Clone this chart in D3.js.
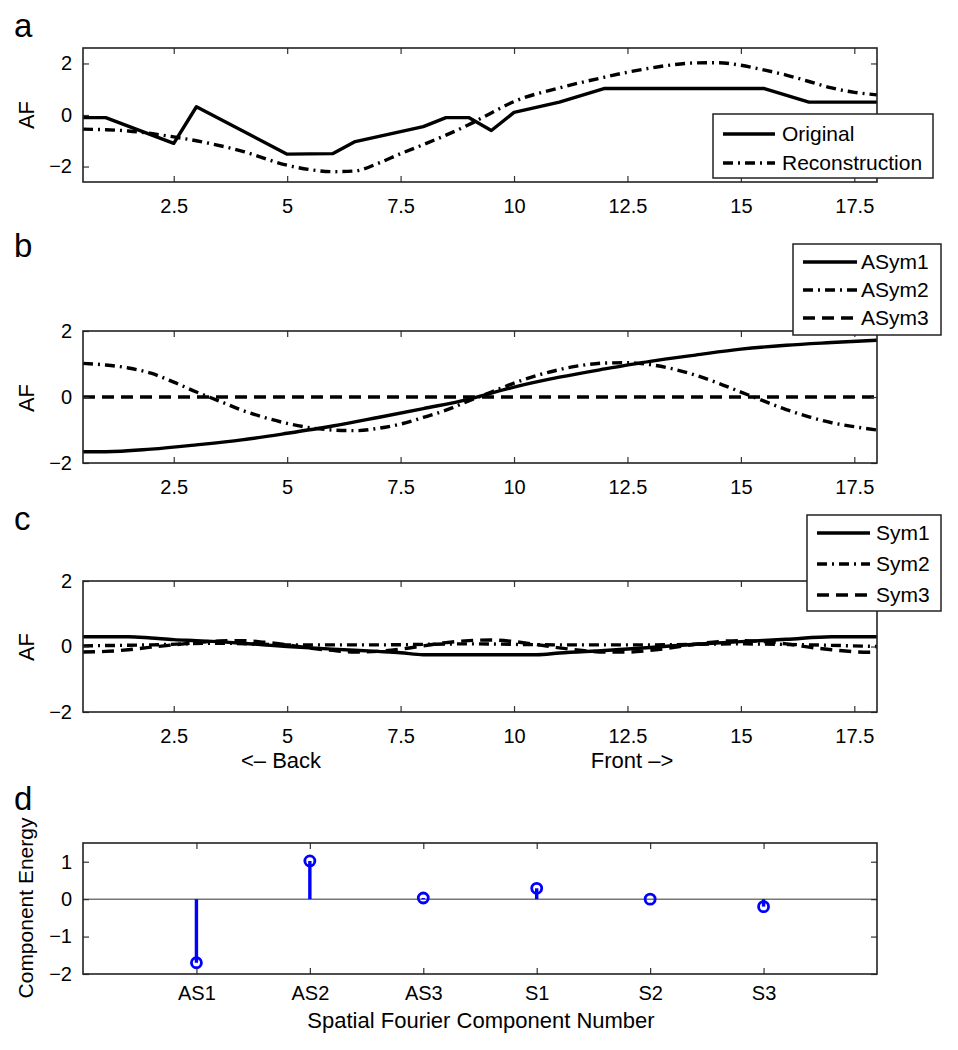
<!DOCTYPE html>
<html>
<head>
<meta charset="utf-8">
<script src="https://cdn.jsdelivr.net/npm/d3@7"></script>
<style>
  html, body { margin: 0; padding: 0; background: #fff; }
  svg { display: block; font-family: "Liberation Sans", Arial, Helvetica, sans-serif; }
</style>
</head>
<body>
<svg id="chart" width="958" height="1050"></svg>
<script>
// ---------- DATA ----------
const xTickValues = [2.5, 5, 7.5, 10, 12.5, 15, 17.5];
const xTickLabels = ["2.5", "5", "7.5", "10", "12.5", "15", "17.5"];
const afTickValues = [-2, 0, 2];
const afTickLabels = ["\u22122", "0", "2"];

// Panel a
const originalX = [0.5, 1, 2.5, 3, 5, 6, 6.5, 8, 8.5, 9, 9.5, 10, 11, 12, 15.5, 16.5, 18];
const originalY = [-0.1, -0.1, -1.1, 0.32, -1.52, -1.5, -1.03, -0.45, -0.1, -0.1, -0.6, 0.1, 0.5, 1.03, 1.03, 0.5, 0.5];
const reconX = [0.5, 1, 1.5, 2, 2.5, 3, 4, 5, 5.5, 6, 6.5, 7, 7.5, 8, 8.5, 9, 9.5, 10, 11, 12, 12.5, 13, 13.5, 14, 14.5, 15, 15.5, 16, 16.5, 17, 17.5, 18];
const reconY = [-0.55, -0.57, -0.62, -0.72, -0.85, -1.0, -1.4, -1.95, -2.12, -2.2, -2.17, -1.88, -1.5, -1.15, -0.78, -0.38, 0.08, 0.52, 1.05, 1.47, 1.66, 1.82, 1.95, 2.02, 2.03, 1.93, 1.75, 1.55, 1.3, 1.05, 0.88, 0.78];

// Panel b
const asym1X = [0.5, 1, 2, 3, 4, 5, 6, 7, 8, 9, 10, 11, 12, 13, 14, 15, 16, 17, 18];
const asym1Y = [-1.66, -1.66, -1.58, -1.45, -1.3, -1.1, -0.88, -0.62, -0.35, -0.07, 0.3, 0.6, 0.85, 1.08, 1.27, 1.45, 1.57, 1.65, 1.72];
const asym2X = [0.5, 1, 1.5, 2, 2.5, 3, 3.5, 4, 4.5, 5, 5.5, 6, 6.5, 7, 7.5, 8, 8.5, 9, 9.5, 10, 10.5, 11, 11.5, 12, 12.5, 13, 13.5, 14, 14.5, 15, 15.5, 16, 16.5, 17, 17.5, 18];
const asym2Y = [1.02, 0.97, 0.88, 0.72, 0.45, 0.15, -0.12, -0.4, -0.62, -0.8, -0.93, -1.0, -1.02, -0.95, -0.82, -0.62, -0.4, -0.12, 0.15, 0.42, 0.65, 0.83, 0.96, 1.03, 1.04, 0.98, 0.85, 0.66, 0.42, 0.15, -0.12, -0.38, -0.6, -0.78, -0.9, -1.0];
const asym3X = [0.5, 18];
const asym3Y = [0, 0];

// Panel c
const sym1X = [0.5, 1, 1.5, 2, 2.5, 3, 4, 5, 6, 7, 7.5, 8, 9, 10, 10.5, 11, 12, 13, 14, 15, 16, 17, 18];
const sym1Y = [0.3, 0.3, 0.3, 0.26, 0.21, 0.18, 0.1, 0.0, -0.08, -0.15, -0.19, -0.25, -0.25, -0.25, -0.25, -0.2, -0.12, -0.03, 0.07, 0.15, 0.22, 0.3, 0.3];
const sym2X = [0.5, 2, 3.5, 5, 7, 9, 11, 13, 15, 16.5, 18];
const sym2Y = [0.02, 0.05, 0.1, 0.05, 0.05, 0.08, 0.05, 0.05, 0.08, 0.05, 0.0];
const sym3X = [0.5, 1, 1.5, 2, 2.5, 3, 3.5, 4, 4.5, 5, 5.5, 6, 6.5, 7, 7.5, 8, 8.5, 9, 9.5, 10, 10.5, 11, 11.5, 12, 12.5, 13, 13.5, 14, 14.5, 15, 15.5, 16, 16.5, 17, 17.5, 18];
const sym3Y = [-0.17, -0.15, -0.1, -0.02, 0.05, 0.12, 0.17, 0.18, 0.13, 0.05, -0.05, -0.12, -0.17, -0.15, -0.08, 0.02, 0.12, 0.18, 0.2, 0.15, 0.06, -0.04, -0.12, -0.17, -0.17, -0.12, -0.03, 0.07, 0.15, 0.18, 0.15, 0.08, -0.02, -0.1, -0.16, -0.18];

// Panel d
const components = ["AS1", "AS2", "AS3", "S1", "S2", "S3"];
const componentEnergy = [-1.7, 1.02, 0.03, 0.29, 0.0, -0.2];
const energyTickValues = [-2, -1, 0, 1];
const energyTickLabels = ["\u22122", "\u22121", "0", "1"];

// ---------- LAYOUT ----------
const svg = d3.select("#chart");
const L = 83, R = 877;
const FONT = 20;
const DASHDOT = "10,5,2,5";
const DASHED = "12,7";
const LW = 3.4;

const xScale = d3.scaleLinear().domain([0.5, 18]).range([L, R]);

function styleAxis(s, withText) {
  s.select(".domain").remove();
  s.attr("font-family", null).attr("font-size", null);
  s.selectAll("line").attr("stroke", "#333").attr("stroke-width", 1.2);
  if (withText) s.selectAll("text").attr("font-size", FONT).attr("fill", "#000");
}

function drawFrame(g, x, y, opts) {
  const [x0, x1] = x.range();
  const [y0, y1] = y.range(); // y0 bottom, y1 top
  const bottom = d3.axisBottom(x).tickValues(opts.xVals).tickFormat((d, i) => opts.xLabels[i])
    .tickSize(-6).tickPadding(opts.xPad || 17);
  g.append("g").attr("transform", `translate(0,${y0})`).call(bottom).call(s => styleAxis(s, true));
  const top = d3.axisTop(x).tickValues(opts.xVals).tickFormat("").tickSize(-6);
  g.append("g").attr("transform", `translate(0,${y1})`).call(top).call(s => styleAxis(s, false));
  const left = d3.axisLeft(y).tickValues(opts.yVals).tickFormat((d, i) => opts.yLabels[i]).tickSize(-6).tickPadding(11);
  g.append("g").attr("transform", `translate(${x0},0)`).call(left).call(s => styleAxis(s, true));
  const right = d3.axisRight(y).tickValues(opts.yVals).tickFormat("").tickSize(-6);
  g.append("g").attr("transform", `translate(${x1},0)`).call(right).call(s => styleAxis(s, false));
  g.append("rect").attr("x", x0).attr("y", y1).attr("width", x1 - x0).attr("height", y0 - y1)
    .attr("fill", "none").attr("stroke", "#222").attr("stroke-width", 1.6);
}

function yLabel(text, x, y, size) {
  svg.append("text").attr("transform", `translate(${x},${y}) rotate(-90)`)
    .attr("text-anchor", "middle").attr("font-size", size || 22).attr("fill", "#000").text(text);
}
function panelLabel(text, x, y) {
  svg.append("text").attr("x", x).attr("y", y).attr("font-size", 33).attr("fill", "#000").text(text);
}
function seriesLine(g, xs, ys, x, y, dash, curve) {
  const pts = xs.map((v, i) => [v, ys[i]]);
  const line = d3.line().x(d => x(d[0])).y(d => y(d[1])).curve(curve || d3.curveLinear);
  g.append("path").datum(pts).attr("d", line).attr("fill", "none")
    .attr("stroke", "#000").attr("stroke-width", LW)
    .attr("stroke-dasharray", dash || null).attr("stroke-linejoin", "round");
}
function legend(box, rows) {
  svg.append("rect").attr("x", box.x).attr("y", box.y).attr("width", box.w).attr("height", box.h)
    .attr("fill", "#fff").attr("stroke", "#222").attr("stroke-width", 1.5);
  rows.forEach(r => {
    svg.append("line").attr("x1", box.lx0).attr("x2", box.lx1).attr("y1", r.y).attr("y2", r.y)
      .attr("stroke", "#000").attr("stroke-width", LW).attr("stroke-dasharray", r.dash || null);
    svg.append("text").attr("x", box.tx).attr("y", r.y).attr("dy", "0.35em")
      .attr("font-size", 21).attr("fill", "#000").text(r.label);
  });
}

// ---------- PANEL A ----------
{
  const y = d3.scaleLinear().domain([-2.6, 2.6]).range([182, 48]);
  const g = svg.append("g");
  seriesLine(g, reconX, reconY, xScale, y, DASHDOT, d3.curveMonotoneX);
  seriesLine(g, originalX, originalY, xScale, y, null);
  drawFrame(g, xScale, y, { xVals: xTickValues, xLabels: xTickLabels, yVals: afTickValues, yLabels: afTickLabels });
  yLabel("AF", 34, 115);
  panelLabel("a", 14, 37);
  legend({ x: 713, y: 114, w: 220, h: 64, lx0: 723, lx1: 775, tx: 782 },
    [{ y: 134, label: "Original" }, { y: 163, label: "Reconstruction", dash: DASHDOT }]);
}

// ---------- PANEL B ----------
{
  const y = d3.scaleLinear().domain([-2, 2]).range([463, 331]);
  const g = svg.append("g");
  seriesLine(g, asym3X, asym3Y, xScale, y, DASHED);
  seriesLine(g, asym2X, asym2Y, xScale, y, DASHDOT, d3.curveMonotoneX);
  seriesLine(g, asym1X, asym1Y, xScale, y, null, d3.curveMonotoneX);
  drawFrame(g, xScale, y, { xVals: xTickValues, xLabels: xTickLabels, yVals: afTickValues, yLabels: afTickLabels });
  yLabel("AF", 34, 398);
  panelLabel("b", 14, 257);
  legend({ x: 793, y: 244, w: 148, h: 91, lx0: 803, lx1: 857, tx: 861 },
    [{ y: 262, label: "ASym1" }, { y: 290, label: "ASym2", dash: DASHDOT }, { y: 318, label: "ASym3", dash: DASHED }]);
}

// ---------- PANEL C ----------
{
  const y = d3.scaleLinear().domain([-2, 2]).range([712, 581]);
  const g = svg.append("g");
  seriesLine(g, sym2X, sym2Y, xScale, y, DASHDOT, d3.curveMonotoneX);
  seriesLine(g, sym3X, sym3Y, xScale, y, DASHED, d3.curveMonotoneX);
  seriesLine(g, sym1X, sym1Y, xScale, y, null, d3.curveMonotoneX);
  drawFrame(g, xScale, y, { xVals: xTickValues, xLabels: xTickLabels, yVals: afTickValues, yLabels: afTickLabels });
  yLabel("AF", 34, 647);
  panelLabel("c", 14, 530);
  legend({ x: 807, y: 515, w: 134, h: 96, lx0: 817, lx1: 870, tx: 876 },
    [{ y: 533, label: "Sym1" }, { y: 564, label: "Sym2", dash: DASHDOT }, { y: 595, label: "Sym3", dash: DASHED }]);
  svg.append("text").attr("x", 281).attr("y", 768).attr("text-anchor", "middle").attr("font-size", 22).text("<\u2013 Back");
  svg.append("text").attr("x", 632).attr("y", 768).attr("text-anchor", "middle").attr("font-size", 22).text("Front \u2013>");
}

// ---------- PANEL D ----------
{
  const x = d3.scaleLinear().domain([0, components.length + 1]).range([L, R]);
  const y = d3.scaleLinear().domain([-2, 1.5]).range([974, 843]);
  const g = svg.append("g");
  const idx = components.map((c, i) => i + 1);
  g.append("line").attr("x1", L).attr("x2", R).attr("y1", y(0)).attr("y2", y(0))
    .attr("stroke", "#777").attr("stroke-width", 1.5);
  g.selectAll(".stem").data(componentEnergy).join("line")
    .attr("x1", (d, i) => x(idx[i])).attr("x2", (d, i) => x(idx[i]))
    .attr("y1", y(0)).attr("y2", d => y(d))
    .attr("stroke", "#0000ff").attr("stroke-width", 3.4);
  g.selectAll(".mk").data(componentEnergy).join("circle")
    .attr("cx", (d, i) => x(idx[i])).attr("cy", d => y(d)).attr("r", 5)
    .attr("fill", "none").attr("stroke", "#0000ff").attr("stroke-width", 2.8);
  drawFrame(g, x, y, { xVals: idx, xLabels: components, yVals: energyTickValues, yLabels: energyTickLabels, xPad: 12 });
  yLabel("Component Energy", 33, 908, 21);
  panelLabel("d", 14, 810);
  svg.append("text").attr("x", 481).attr("y", 1028).attr("text-anchor", "middle").attr("font-size", 22)
    .text("Spatial Fourier Component Number");
}
</script>
</body>
</html>
